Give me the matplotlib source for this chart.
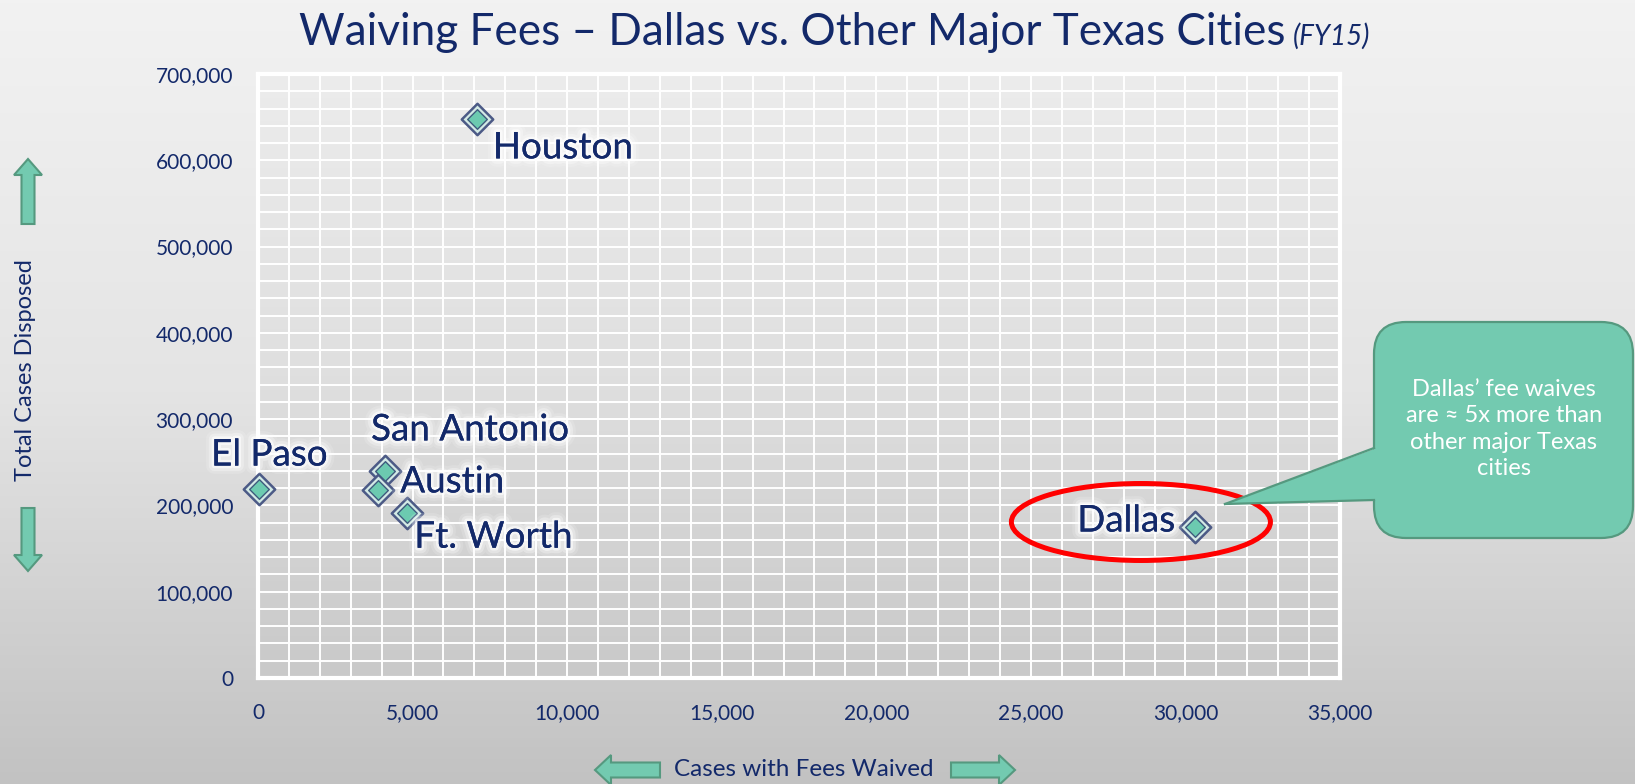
import matplotlib
matplotlib.use('Agg')
import matplotlib.pyplot as plt
import numpy as np
from matplotlib.patches import FancyBboxPatch, Polygon, Ellipse, FancyArrow
from matplotlib.lines import Line2D
from matplotlib.colors import LinearSegmentedColormap
import matplotlib.patheffects as pe
from matplotlib.ticker import MultipleLocator, FuncFormatter

# ---------------- data ----------------
cities = ['Houston', 'El Paso', 'San Antonio', 'Austin', 'Ft. Worth', 'Dallas']
fees_waived = [7080, 40, 4110, 3890, 4830, 30320]
cases_disposed = [648000, 219000, 240000, 218000, 191000, 175000]
x_ticks = [0, 5000, 10000, 15000, 20000, 25000, 30000, 35000]
y_ticks = [0, 100000, 200000, 300000, 400000, 500000, 600000, 700000]
title_main = 'Waiving Fees \u2013 Dallas vs. Other Major Texas Cities'
title_sub = '(FY15)'
x_label = 'Cases with Fees Waived'
y_label = 'Total Cases Disposed'
callout_text = 'Dallas\u2019 fee waives\nare \u2248 5x more than\nother major Texas\ncities'

# label placement (offset pixels, alignment)
label_style = {
    'Houston': ((16, -29), 'left'),
    'El Paso': ((10, 34), 'center'),
    'San Antonio': ((-14, 41), 'left'),
    'Austin': ((22, 8), 'left'),
    'Ft. Worth': ((7, -24), 'left'),
    'Dallas': ((-20, 6), 'right'),
}

W, H = 1635, 784
FONT = ['Lato', 'DejaVu Sans']
NAVY = '#13296a'
TEAL = '#73cab0'
TEAL_EDGE = '#55997f'
plt.rcParams['font.family'] = FONT

fig = plt.figure(figsize=(W / 100, H / 100), dpi=100)

# figure background gradient
bg = fig.add_axes([0, 0, 1, 1], zorder=-10)
grad = np.linspace(0, 1, 256).reshape(-1, 1)
cm_fig = LinearSegmentedColormap.from_list('f', ['#f2f2f2', '#e4e4e4', '#c2c2c2'])
bg.imshow(grad, aspect='auto', cmap=cm_fig, extent=[0, 1, 0, 1])
bg.axis('off')

# main axes
ax = fig.add_axes([258 / W, 1 - 678 / H, (1340 - 258) / W, (678 - 74) / H])
cm_ax = LinearSegmentedColormap.from_list('a', ['#ececec', '#dfdfdf', '#c9c9c9'])
ax.imshow(grad, aspect='auto', cmap=cm_ax, extent=[0, 35000, 0, 700000], zorder=0)
ax.set_xlim(0, 35000)
ax.set_ylim(0, 700000)
ax.set_xticks(x_ticks)
ax.set_yticks(y_ticks)
ax.xaxis.set_minor_locator(MultipleLocator(1000))
ax.yaxis.set_minor_locator(MultipleLocator(20000))
ax.set_axisbelow(True)
ax.grid(which='both', color='white', lw=1.4)
fmt = FuncFormatter(lambda v, p: f'{int(v):,}')
ax.xaxis.set_major_formatter(fmt)
ax.yaxis.set_major_formatter(fmt)
ax.tick_params(which='both', length=0, labelsize=15, labelcolor=NAVY)
ax.tick_params(axis='y', pad=18)
ax.tick_params(axis='x', pad=18)
for s in ax.spines.values():
    s.set_color('white')
    s.set_linewidth(3)

# markers
ax.scatter(fees_waived, cases_disposed, marker='D', s=16 ** 2, c='#d3e9e5',
           edgecolors='#4c5a86', linewidths=1.8, zorder=5, clip_on=False)
ax.scatter(fees_waived, cases_disposed, marker='D', s=10 ** 2, c='#6ccab0',
           edgecolors='#3f5b7e', linewidths=1.0, zorder=6, clip_on=False)

glow = [pe.withStroke(linewidth=12, foreground='white', alpha=0.15),
        pe.withStroke(linewidth=8, foreground='white', alpha=0.3),
        pe.withStroke(linewidth=4, foreground='white', alpha=0.6),
        pe.Normal()]
for name, xv, yv in zip(cities, fees_waived, cases_disposed):
    off, ha = label_style[name]
    ax.annotate(name, (xv, yv), xytext=off, textcoords='offset pixels',
                ha=ha, va='center', fontsize=26.5, color=NAVY, zorder=7,
                path_effects=glow)

# red ellipse around Dallas
ax.add_patch(Ellipse((28560, 180800), 8380, 89200, fill=False, ec='#ff0000',
                     lw=3.6, zorder=8))

# overlay in pixel coordinates
ov = fig.add_axes([0, 0, 1, 1], zorder=10)
ov.set_xlim(0, W)
ov.set_ylim(H, 0)
ov.axis('off')

# callout
ov.add_patch(FancyBboxPatch((1374, 322), 259, 216,
                            boxstyle='round,pad=0,rounding_size=32',
                            fc=TEAL, ec=TEAL_EDGE, lw=1.6))
ov.add_patch(Polygon([(1377, 448), (1225, 504), (1377, 500)], closed=True,
                     fc=TEAL, ec='none'))
ov.add_line(Line2D([1374, 1225], [448, 504], color=TEAL_EDGE, lw=1.6))
ov.add_line(Line2D([1225, 1374], [504, 500], color=TEAL_EDGE, lw=1.6))
ov.text(1504, 429, callout_text, ha='center', va='center', color='white',
        fontsize=17, linespacing=1.32)

# arrows
akw = dict(length_includes_head=True, fc=TEAL, ec=TEAL_EDGE, lw=1.5)
ov.add_patch(FancyArrow(28, 224, 0, -65, width=13, head_width=28, head_length=16, **akw))
ov.add_patch(FancyArrow(28, 508, 0, 63, width=13, head_width=28, head_length=16, **akw))
ov.add_patch(FancyArrow(660, 770, -65, 0, width=15, head_width=30, head_length=16, **akw))
ov.add_patch(FancyArrow(951, 770, 64, 0, width=15, head_width=30, head_length=16, **akw))

ov.text(26, 370, y_label, rotation=90, ha='center', va='center', fontsize=17, color=NAVY)
ov.text(804, 770, x_label, ha='center', va='center', fontsize=17.5, color=NAVY)

# title fitted to width
t = fig.text(1285 / W, 1 - 45 / H, title_main, ha='right', va='baseline',
             fontsize=34, color=NAVY)
fig.canvas.draw()
wpx = t.get_window_extent().width
t.set_fontsize(34 * 987 / wpx)
fig.text(1293 / W, 1 - 45 / H, title_sub, ha='left', va='baseline',
         fontsize=20, style='italic', color=NAVY)

fig.savefig('out.png', dpi=100)
